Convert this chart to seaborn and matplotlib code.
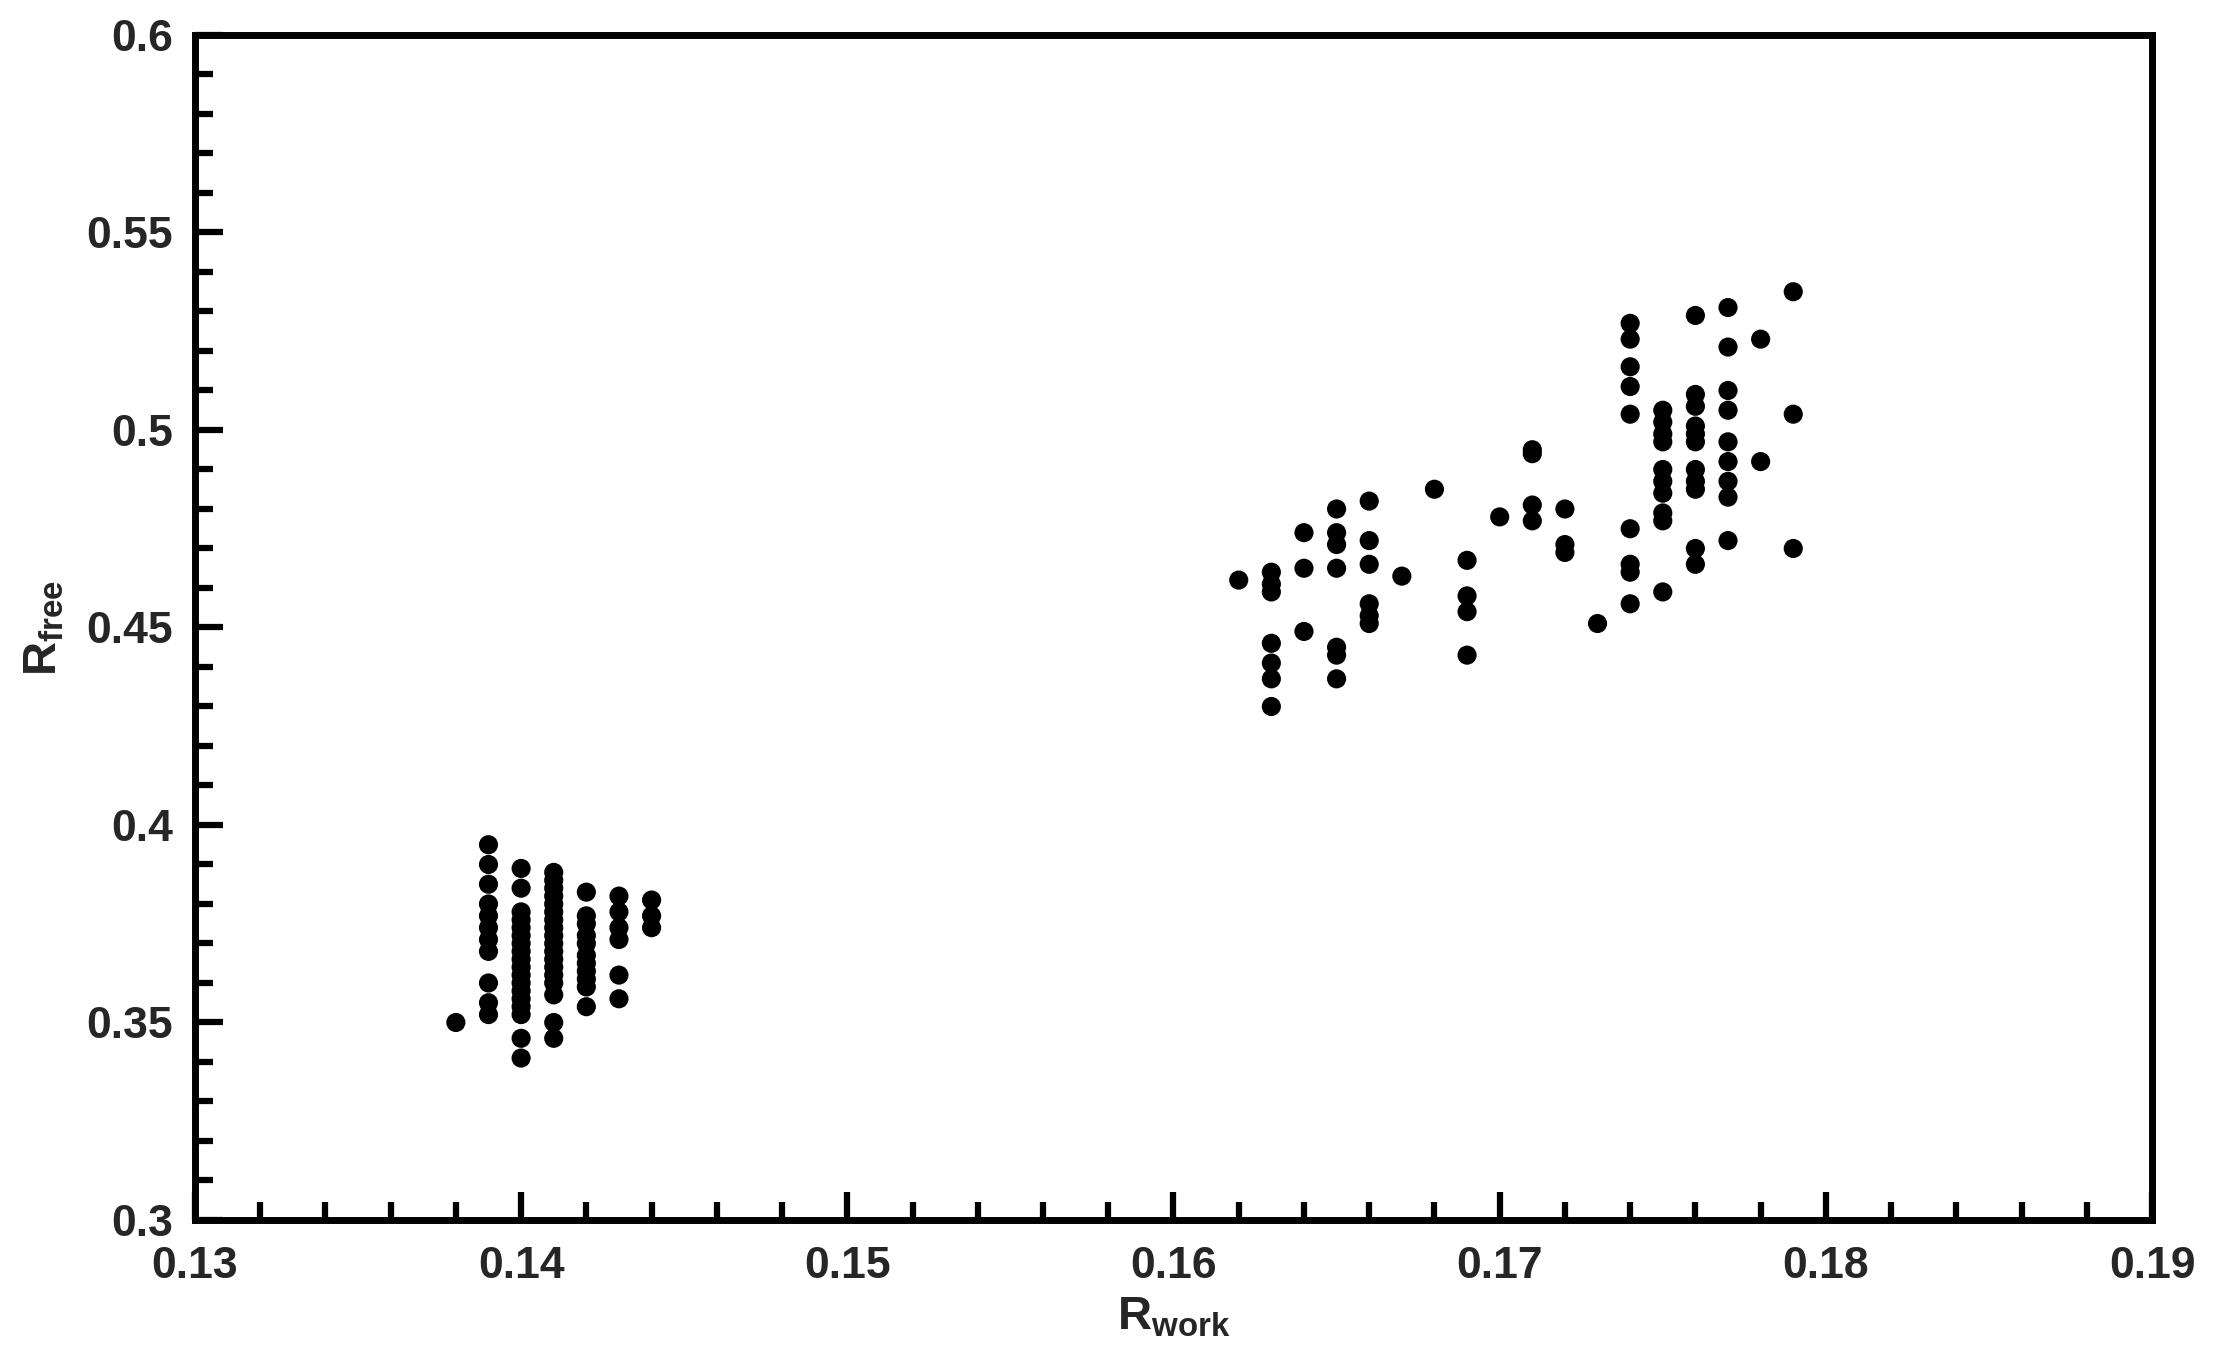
import matplotlib
matplotlib.use("Agg")
import matplotlib.pyplot as plt
import seaborn as sns
import pandas as pd
from matplotlib.ticker import MultipleLocator, FormatStrFormatter

# ---- data (R_work column -> R_free values) ----
r_work_cols = [0.138, 0.139, 0.140, 0.141, 0.142, 0.143, 0.144,
               0.162, 0.163, 0.164, 0.165, 0.166, 0.167, 0.168, 0.169,
               0.170, 0.171, 0.172, 0.173, 0.174, 0.175, 0.176, 0.177,
               0.178, 0.179]
r_free_138 = [0.350]
r_free_139 = [0.395, 0.390, 0.385, 0.380, 0.377, 0.374, 0.371, 0.368, 0.360, 0.355, 0.352]
r_free_140 = [0.389, 0.384, 0.378, 0.376, 0.374, 0.372, 0.370, 0.368, 0.366, 0.364,
              0.362, 0.360, 0.358, 0.356, 0.354, 0.352, 0.346, 0.341]
r_free_141 = [0.388, 0.386, 0.384, 0.382, 0.380, 0.378, 0.376, 0.374, 0.372, 0.370,
              0.368, 0.366, 0.364, 0.362, 0.360, 0.357, 0.350, 0.346]
r_free_142 = [0.383, 0.377, 0.375, 0.372, 0.370, 0.367, 0.365, 0.363, 0.361, 0.359, 0.354]
r_free_143 = [0.382, 0.378, 0.374, 0.371, 0.362, 0.356]
r_free_144 = [0.381, 0.377, 0.374]
r_free_162 = [0.462]
r_free_163 = [0.464, 0.461, 0.459, 0.446, 0.441, 0.437, 0.430]
r_free_164 = [0.474, 0.465, 0.449]
r_free_165 = [0.480, 0.474, 0.471, 0.465, 0.445, 0.443, 0.437]
r_free_166 = [0.482, 0.472, 0.466, 0.456, 0.453, 0.451]
r_free_167 = [0.463]
r_free_168 = [0.485]
r_free_169 = [0.467, 0.458, 0.454, 0.443]
r_free_170 = [0.478]
r_free_171 = [0.495, 0.494, 0.481, 0.477]
r_free_172 = [0.480, 0.471, 0.469]
r_free_173 = [0.451]
r_free_174 = [0.527, 0.523, 0.516, 0.511, 0.504, 0.475, 0.466, 0.464, 0.456]
r_free_175 = [0.505, 0.502, 0.499, 0.497, 0.490, 0.487, 0.484, 0.479, 0.477, 0.459]
r_free_176 = [0.529, 0.509, 0.506, 0.501, 0.499, 0.497, 0.490, 0.487, 0.485, 0.470, 0.466]
r_free_177 = [0.531, 0.521, 0.510, 0.505, 0.497, 0.492, 0.487, 0.483, 0.472]
r_free_178 = [0.523, 0.492]
r_free_179 = [0.535, 0.504, 0.470]

r_free_cols = [r_free_138, r_free_139, r_free_140, r_free_141, r_free_142, r_free_143,
               r_free_144, r_free_162, r_free_163, r_free_164, r_free_165, r_free_166,
               r_free_167, r_free_168, r_free_169, r_free_170, r_free_171, r_free_172,
               r_free_173, r_free_174, r_free_175, r_free_176, r_free_177, r_free_178,
               r_free_179]

x_ticks = [0.13, 0.14, 0.15, 0.16, 0.17, 0.18, 0.19]
y_ticks = [0.3, 0.35, 0.4, 0.45, 0.5, 0.55, 0.6]

rows = []
for xw, ys in zip(r_work_cols, r_free_cols):
    for yf in ys:
        rows.append((xw, yf))
df = pd.DataFrame(rows, columns=["Rwork", "Rfree"])

# ---- style ----
sns.set_style("ticks")
plt.rcParams['font.family'] = ['Liberation Sans', 'DejaVu Sans']
plt.rcParams['font.weight'] = 'bold'
plt.rcParams['mathtext.fontset'] = 'custom'
plt.rcParams['mathtext.rm'] = 'Liberation Sans:bold'
plt.rcParams['mathtext.bf'] = 'Liberation Sans:bold'

fig = plt.figure(figsize=(22.2, 13.56), dpi=100)
ax = fig.add_axes([0.0878, 0.1003, 0.9694 - 0.0878, 0.9742 - 0.1003])

sns.scatterplot(data=df, x="Rwork", y="Rfree", ax=ax, color="black",
                s=190, edgecolor="none", linewidth=0)

ax.set_xlim(0.13, 0.19)
ax.set_ylim(0.3, 0.6)
ax.set_xticks(x_ticks)
ax.set_yticks(y_ticks)
ax.xaxis.set_minor_locator(MultipleLocator(0.002))
ax.yaxis.set_minor_locator(MultipleLocator(0.01))
ax.xaxis.set_major_formatter(FormatStrFormatter('%g'))
ax.yaxis.set_major_formatter(FormatStrFormatter('%g'))

for sp in ax.spines.values():
    sp.set_linewidth(5)
    sp.set_color('black')

ax.tick_params(axis='both', which='major', direction='in', length=20, width=4.5,
               labelsize=32, color='black', top=False, right=False)
ax.tick_params(axis='both', which='minor', direction='in', length=13, width=4.5,
               color='black', top=False, right=False)
ax.tick_params(axis='x', which='major', pad=19)
ax.tick_params(axis='y', which='major', pad=16)
for lab in ax.get_xticklabels() + ax.get_yticklabels():
    lab.set_fontweight('bold')

ax.set_xlabel(r'$\mathrm{R}_{\mathrm{work}}$', fontsize=34, labelpad=6)
ax.set_ylabel(r'$\mathrm{R}_{\mathrm{free}}$', fontsize=34, labelpad=14)

fig.savefig("out.png", dpi=100, facecolor='white')
